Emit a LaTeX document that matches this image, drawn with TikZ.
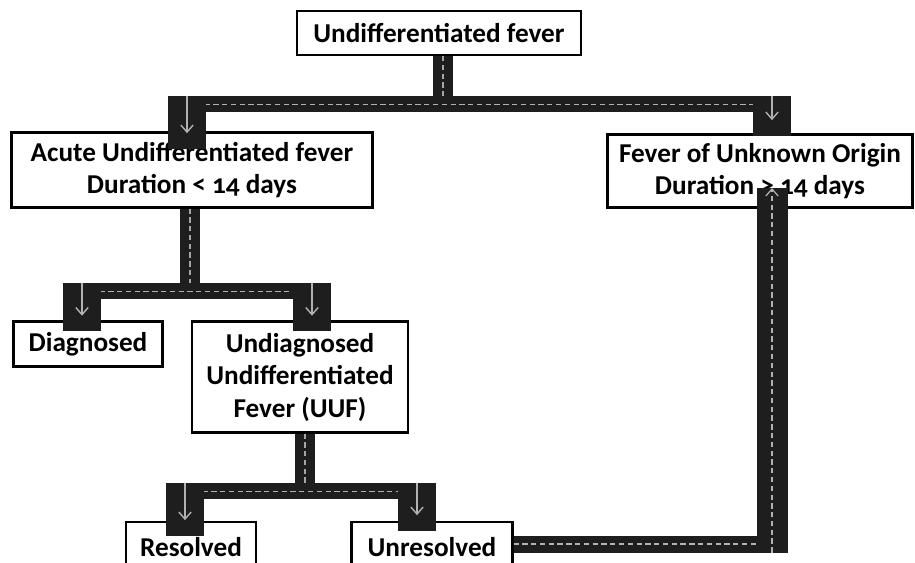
\documentclass[tikz,border=0pt]{standalone}
\usepackage{fontspec}
\setmainfont{Carlito}
\usetikzlibrary{arrows, arrows.meta, calc}
\definecolor{pipegray}{RGB}{30,30,30}

\begin{document}
\begin{tikzpicture}[x=0.02cm, y=-0.02cm, >=latex, font=\bfseries\fontsize{15.5}{18.5}\selectfont]%
            \tikzstyle{box} = [ rectangle, draw = black!100, line width = 1.2pt, fill = white, align = center, inner sep = 0pt]
            \tikzstyle{stem} = [ draw = pipegray, line width = 0.4cm, postaction = {draw = white!65!black, line width = 0.6pt, densely dashed}]
            \tikzstyle{bar} = [ draw = pipegray, line width = 0.32cm, postaction = {draw = white!70!black, line width = 0.5pt, densely dashed}]
            \tikzstyle{drop} = [ draw = pipegray, line width = 0.75cm, postaction = {draw = white!70!black, line width = 0.8pt, -{Straight Barb[length=4pt, width=7pt]}, shorten >= 9pt}]
            \tikzstyle{ret} = [ draw = pipegray, line width = 0.34cm, postaction = {draw = white!70!black, line width = 0.6pt, densely dashed}]
            \tikzstyle{rise} = [ draw = pipegray, line width = 0.62cm, postaction = {draw = white!70!black, line width = 0.7pt, densely dashed, -{Straight Barb[length=4pt, width=7pt]}}]
            \useasboundingbox (0,0) rectangle (915,562);
            \clip (0,0) rectangle (915,562);
        %%
            %% Boxes
            \node [box, minimum width = 5.68cm, minimum height = 0.88cm] (fev_top) at (439,33) {Undifferentiated fever};
            \node [box, minimum width = 7.22cm, minimum height = 1.5cm] (fev_acute) at (192,170) {Acute Undifferentiated fever\\Duration {\addfontfeature{Numbers=OldStyle}< 14} days};
            \node [box, minimum width = 6.1cm, minimum height = 1.46cm] (fev_fuo) at (760,171) {Fever of Unknown Origin\\Duration {\addfontfeature{Numbers=OldStyle}> 14} days};
            \node [box, minimum width = 2.98cm, minimum height = 0.9cm] (fev_diag) at (88,344) {Diagnosed};
            \node [box, minimum width = 4.32cm, minimum height = 2.22cm] (fev_uuf) at (300,377) {Undiagnosed\\Undifferentiated\\Fever (UUF)};
            \node [box, minimum width = 2.6cm, minimum height = 1.0cm] (fev_res) at (191,547) {Resolved};
            \node [box, minimum width = 3.22cm, minimum height = 1.0cm] (fev_unres) at (432,547) {Unresolved};

            %% Junctions
            \coordinate (j1) at (443,104);
            \coordinate (j1_l) at (187,104);
            \coordinate (j1_r) at (772,104);
            \coordinate (j2) at (190,291);
            \coordinate (j2_l) at (82,291);
            \coordinate (j2_r) at (312,291);
            \coordinate (j3) at (305,491);
            \coordinate (j3_l) at (185,491);
            \coordinate (j3_r) at (417,491);
            \coordinate (r1) at (772,544);
            \coordinate (r2) at (772,188);

            %% Level 1
            \draw[stem] (j1 |- fev_top.south) -- (j1);
            \draw[bar] (j1_l) -- (j1_r);
            \draw[drop] ([yshift=0.16cm]j1_l) -- ([yshift=-0.35cm]j1_l |- fev_acute.north);
            \draw[drop] ([yshift=0.16cm]j1_r) -- ([yshift=-0.05cm]j1_r |- fev_fuo.north);

            %% Level 2
            \draw[stem] (j2 |- fev_acute.south) -- (j2);
            \draw[bar] (j2_l) -- (j2_r);
            \draw[drop] ([yshift=0.16cm]j2_l) -- ([yshift=-0.22cm]j2_l |- fev_diag.north);
            \draw[drop] ([yshift=0.16cm]j2_r) -- ([yshift=-0.22cm]j2_r |- fev_uuf.north);

            %% Level 3
            \draw[stem] (j3 |- fev_uuf.south) -- (j3);
            \draw[bar] (j3_l) -- (j3_r);
            \draw[drop] ([yshift=0.16cm]j3_l) -- ([yshift=-0.3cm]j3_l |- fev_res.north);
            \draw[drop] ([yshift=0.16cm]j3_r) -- ([yshift=-0.2cm]j3_r |- fev_unres.north);

            %% Unresolved back to FUO
            \draw[ret] (fev_unres.east |- r1) -- (r1);
            \draw[rise] ([yshift=-0.17cm]r1) -- (r2);
        \end{tikzpicture}
\end{document}
